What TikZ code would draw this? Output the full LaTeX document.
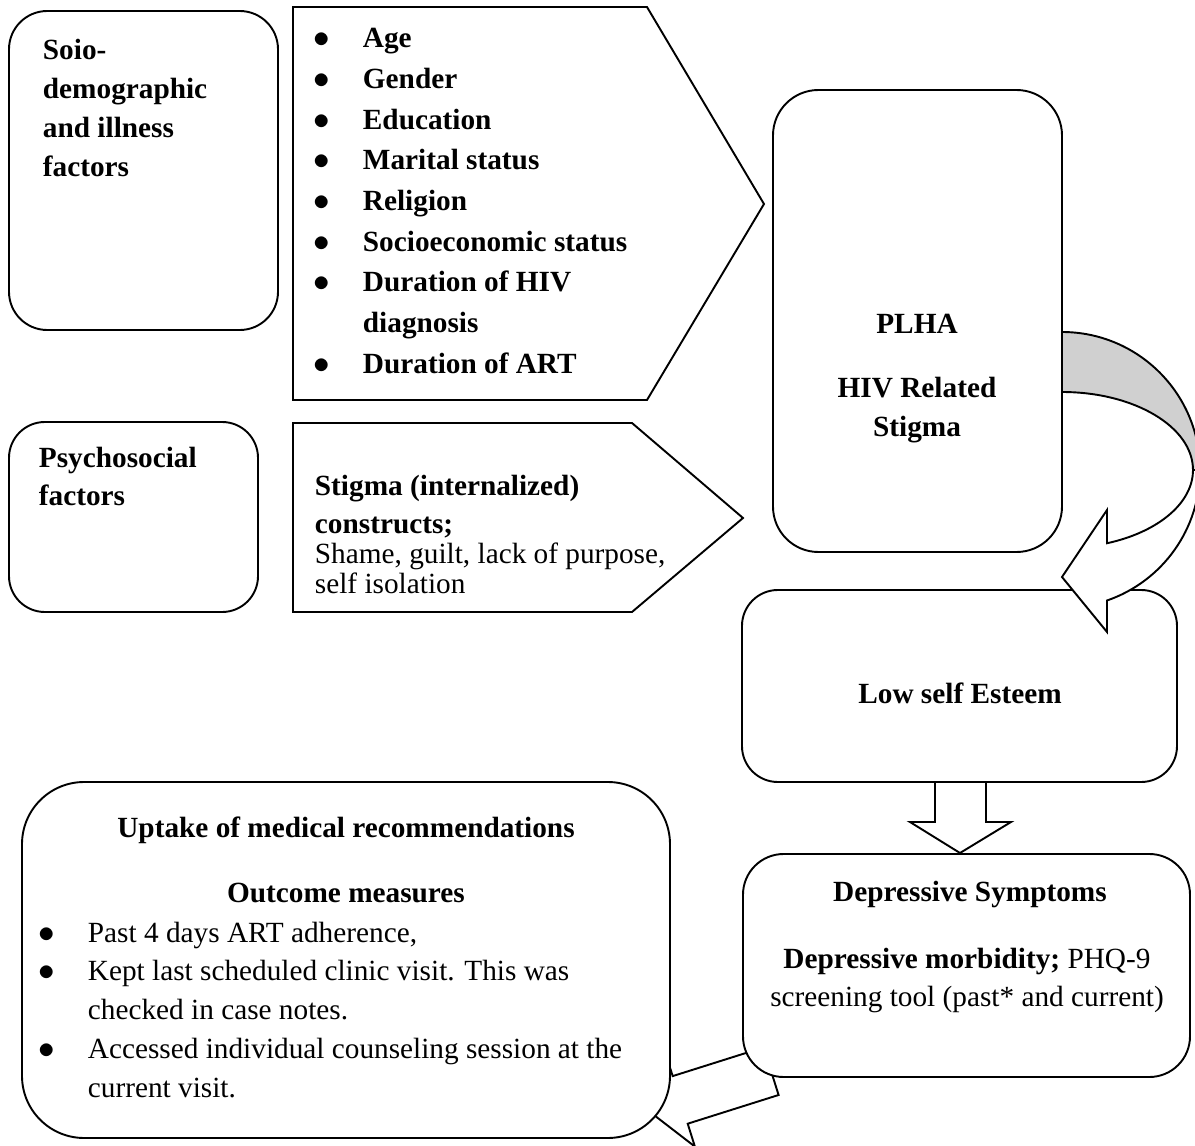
\documentclass[tikz,border=0pt]{standalone}
\usepackage{fontspec}
\setmainfont{Liberation Serif}
\usetikzlibrary{fit}
\definecolor{bandgray}{RGB}{208,208,208}
\newcommand{\listdot}{\scalebox{1.15}{$\bullet$}}

\begin{document}
\begin{tikzpicture}[
    x=0.4184pt, y=-0.4184pt,
    line width=0.8pt,
    roundbox/.style={draw, fill=white, inner sep=0pt, rounded corners=#1},
    roundbox/.default=16pt,
    blockarrow/.style={draw, fill=white, line join=miter},
    boxtext/.style={inner sep=0pt, font=\fontsize{12.25}{#1}\selectfont},
    boxtext/.default=14pt
]
\useasboundingbox (0,0) rectangle (1195,1146);
\clip (0,0) rectangle (1195,1146);

% left column
\node[roundbox, fit={(9,11) (278,330)}] (socio) {};
\node[roundbox=15pt, fit={(9,422) (258,612)}] (psycho) {};
\draw[blockarrow] (293,7) -- (647,7) -- (764,204) -- (647,400) -- (293,400) -- cycle;
\draw[blockarrow] (293,423) -- (632,423) -- (743,518) -- (632,612) -- (293,612) -- cycle;

% right column
\node[roundbox=19pt, fit={(773,90) (1062,552)}] (plha) {};
\draw[fill=bandgray] (1062,332) arc[start angle=-90, end angle=0, radius=138]
    -- (1193,470) arc[start angle=0, end angle=-90, x radius=131, y radius=78] -- cycle;
\node[roundbox=15pt, fit={(742,590) (1177,782)}] (esteem) {};
\draw[blockarrow] (1193,470) arc[start angle=0, end angle=69.9, x radius=131, y radius=78]
    -- (1107,510) -- (1062,577) -- (1107,632) -- (1107,600.5)
    arc[start angle=70.97, end angle=0, radius=138] -- cycle;
\draw[blockarrow] (935,782) -- (935,822) -- (910,822) -- (960,853)
    -- (1011,822) -- (986,822) -- (986,782) -- cycle;

% bottom
\draw[blockarrow] (763.6,1047.4) -- (672.7,1076.1) -- (665.5,1053.2) -- (647.7,1110.2)
    -- (694.9,1146.6) -- (687.7,1123.7) -- (778.6,1095.0) -- cycle;
\node[roundbox=17pt, fit={(743,854) (1190,1077)}] (depress) {};
\node[roundbox=26pt, fit={(22,782) (670,1138)}] (uptake) {};

% texts
\node[boxtext=16.3pt, anchor=base west] (sociotxt) at (42,60)
    {\bfseries\begin{tabular}[t]{@{}l@{}}Soio-\\demographic\\and illness\\factors\end{tabular}};
\node[boxtext=15.9pt, anchor=base west] (psychotxt) at (38,467)
    {\bfseries\begin{tabular}[t]{@{}l@{}}Psychosocial\\factors\end{tabular}};
\node[boxtext=17pt, anchor=base west] (demolist) at (313,48)
    {\bfseries\begin{tabular}[t]{@{}p{20.5pt}@{}l@{}}
    \listdot & Age\\
    \listdot & Gender\\
    \listdot & Education\\
    \listdot & Marital status\\
    \listdot & Religion\\
    \listdot & Socioeconomic status\\
    \listdot & Duration of HIV\\
             & diagnosis\\
    \listdot & Duration of ART
    \end{tabular}};
\node[boxtext=15.9pt, anchor=base west] (stigmahead) at (314,495)
    {\bfseries\begin{tabular}[t]{@{}l@{}}Stigma (internalized)\\constructs;\end{tabular}};
\node[boxtext=12.6pt, anchor=base west] (stigmabody) at (314,563)
    {\begin{tabular}[t]{@{}l@{}}Shame, guilt, lack of purpose,\\self isolation\end{tabular}};
\node[boxtext, anchor=base] (plhatxt) at (917,333) {\bfseries PLHA};
\node[boxtext=16.7pt, anchor=base] (stigmatxt) at (917,397)
    {\bfseries\begin{tabular}[t]{@{}c@{}}HIV Related\\Stigma\end{tabular}};
\node[boxtext, anchor=base] (esteemtxt) at (960,703) {\bfseries Low self Esteem};
\node[boxtext, anchor=base] (depresshead) at (970,901) {\bfseries Depressive Symptoms};
\node[boxtext=15.9pt, anchor=base] (depressbody) at (967,968)
    {\begin{tabular}[t]{@{}c@{}}\textbf{Depressive morbidity;} PHQ-9\\screening tool (past* and current)\end{tabular}};
\node[boxtext, anchor=base] (uptakehead) at (346,837) {\bfseries Uptake of medical recommendations};
\node[boxtext, anchor=base] (outcomehead) at (346,902) {\bfseries Outcome measures};
\node[boxtext=16.3pt, anchor=base west] (outcomelist) at (38,942)
    {\begin{tabular}[t]{@{}p{20.5pt}@{}l@{}}
    \listdot & Past 4 days ART adherence,\\
    \listdot & Kept last scheduled clinic visit. This was\\
             & checked in case notes.\\
    \listdot & Accessed individual counseling session at the\\
             & current visit.
    \end{tabular}};
\end{tikzpicture}
\end{document}
